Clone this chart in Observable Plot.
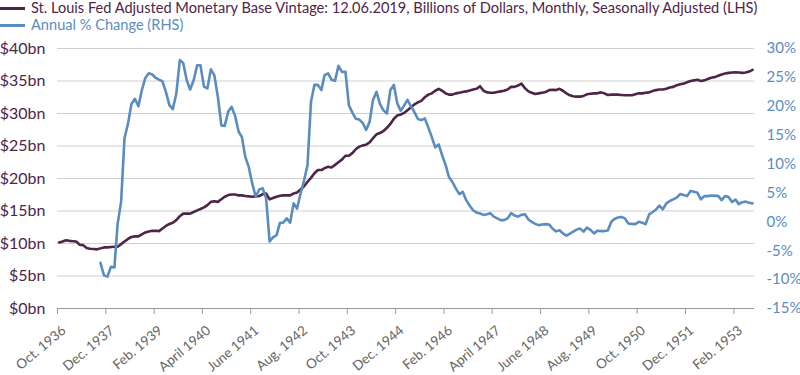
<!DOCTYPE html>
<html>
<head>
<meta charset="utf-8">
<script src="https://cdn.jsdelivr.net/npm/d3@7"></script>
<script src="https://cdn.jsdelivr.net/npm/@observablehq/plot@0.6"></script>
<style>
  html, body { margin: 0; padding: 0; background: #fff; }
  body { width: 800px; height: 375px; overflow: hidden; font-family: Lato, "Open Sans", sans-serif; }
  #legend { position: relative; height: 34px; }
  .item { position: absolute; left: 0; display: flex; align-items: center; font-size: 14.6px; line-height: 16px; white-space: nowrap; }
  .sw { width: 25px; height: 3px; margin-right: 6px; }
  #chart svg { display: block; }
</style>
</head>
<body>
<div id="legend"></div>
<div id="chart"></div>
<script>
// ---- Data ----
const startYear = 1936, startMonth = 9; // October 1936 (0-based month)
const seriesNames = [
  "St. Louis Fed Adjusted Monetary Base Vintage: 12.06.2019, Billions of Dollars, Monthly, Seasonally Adjusted (LHS)",
  "Annual % Change (RHS)"
];
// Monetary base, $bn, monthly from Oct 1936
const baseValues = [
  10.15, 10.3, 10.5, 10.4, 10.35, 10.3, 9.8, 9.75, 9.3, 9.2, 9.15, 9.1,
  9.25, 9.4, 9.4, 9.45, 9.5, 9.5, 9.9, 10.3, 10.7, 11.0, 11.1, 11.1,
  11.4, 11.7, 11.85, 11.95, 11.95, 11.9, 12.3, 12.7, 13.0, 13.2, 13.6, 14.2,
  14.6, 14.6, 14.6, 14.85, 15.1, 15.3, 15.55, 15.9, 16.4, 16.5, 16.4, 16.8,
  17.2, 17.45, 17.55, 17.55, 17.4, 17.4, 17.3, 17.25, 17.2, 17.25, 17.3, 17.6,
  17.7, 16.8, 17.0, 17.2, 17.35, 17.4, 17.4, 17.4, 17.7, 17.85, 18.3, 18.8,
  19.5, 20.1, 20.8, 21.3, 21.3, 21.6, 21.8, 21.7, 22.1, 22.5, 22.9, 23.5,
  23.5, 23.9, 24.5, 24.9, 25.1, 25.2, 25.55, 26.2, 26.8, 27.0, 27.3, 27.8,
  28.4, 29.2, 29.7, 29.85, 30.1, 30.5, 30.95, 31.4, 31.7, 31.95, 32.5, 32.9,
  33.1, 33.5, 33.8, 33.5, 33.1, 32.9, 32.9, 33.1, 33.2, 33.3, 33.4, 33.55,
  33.7, 33.8, 34.2, 33.5, 33.25, 33.2, 33.2, 33.3, 33.4, 33.5, 33.7, 34.1,
  34.1, 34.3, 34.6, 33.9, 33.4, 33.2, 33.0, 33.1, 33.2, 33.3, 33.6, 33.65,
  33.6, 33.8, 33.5, 33.1, 32.8, 32.65, 32.6, 32.6, 32.7, 32.95, 33.05, 33.1,
  33.1, 33.25, 33.1, 32.85, 32.9, 32.9, 32.9, 32.85, 32.8, 32.8, 32.8, 32.95,
  33.1, 33.1, 33.2, 33.25, 33.45, 33.6, 33.7, 33.7, 33.8, 34.0, 34.1, 34.35,
  34.5, 34.6, 34.8, 35.0, 35.1, 35.2, 35.0, 35.1, 35.3, 35.5, 35.6, 35.8,
  36.0, 36.15, 36.25, 36.3, 36.35, 36.3, 36.25, 36.3, 36.45, 36.7
];
// Annual % change, monthly from Oct 1937 (12 months after start)
const changeOffset = 12;
const changeValues = [
  -7.1, -9.26, -9.49, -7.8, -7.9, -0.4, 3.45, 14.5, 17.0, 20.4, 21.3, 20.0,
  22.8, 24.9, 25.7, 25.5, 24.9, 24.6, 24.3, 22.5, 20.2, 19.5, 22.2, 28.0,
  27.5, 24.5, 22.9, 24.5, 27.1, 27.1, 23.4, 23.1, 26.4, 25.4, 21.7, 16.7,
  16.6, 19.1, 19.9, 18.3, 15.6, 14.7, 11.2, 9.5, 6.6, 4.35, 5.6, 5.8,
  4.1, -3.4, -2.7, -2.3, -0.15, -0.15, 0.6, -0.15, 3.2, 2.3, 4.9, 7.2,
  9.75, 20.8, 23.7, 23.7, 22.8, 25.4, 25.7, 24.6, 24.4, 27.0, 25.95, 25.95,
  20.2, 18.9, 17.85, 17.7, 17.1, 15.9, 17.3, 21.1, 22.5, 20.4, 19.3, 18.75,
  22.8, 23.7, 20.5, 19.2, 20.2, 21.1, 20.0, 19.0, 17.8, 17.6, 17.9, 16.3,
  14.7, 12.9, 13.4, 11.5, 9.8, 7.8, 6.9, 5.8, 4.8, 5.2, 3.75, 2.8,
  2.0, 1.6, 1.45, 1.2, 1.3, 1.5, 0.9, 0.6, 0.3, 0.3, 0.6, 1.5,
  1.1, 0.9, 1.2, 1.3, 0.4, 0.0, -0.35, -0.57, -0.45, -0.4, -0.45, -1.2,
  -1.65, -1.45, -2.0, -2.4, -2.05, -1.7, -1.35, -1.15, -1.7, -1.0, -1.4, -2.0,
  -1.55, -1.6, -1.6, -1.5, 0.0, 0.5, 0.75, 0.85, 0.6, -0.3, -0.35, -0.4,
  0.0, -0.15, -0.4, 1.3, 1.7, 2.1, 2.8, 2.15, 3.2, 3.6, 3.9, 4.2,
  4.8, 4.65, 4.45, 5.35, 5.2, 5.05, 3.9, 4.45, 4.45, 4.55, 4.5, 4.5,
  3.75, 4.45, 4.3, 3.45, 3.85, 3.05, 3.4, 3.5, 3.3, 3.2
];
// Axis ticks
const xTickLabels = ["Oct. 1936","Dec. 1937","Feb. 1939","April 1940","June 1941","Aug. 1942","Oct. 1943",
  "Dec. 1944","Feb. 1946","April 1947","June 1948","Aug. 1949","Oct. 1950","Dec. 1951","Feb. 1953"];
const xTickStepMonths = 14;
const leftTicks = [0, 5, 10, 15, 20, 25, 30, 35, 40];
const rightTicks = [-15, -10, -5, 0, 5, 10, 15, 20, 25, 30];

// ---- Styling ----
const purple = "#4e2549";
const blue = "#5b8cc0";
const leftDomain = [0, 40];
const rightDomain = [-15, 30];

// map right-axis value onto the left scale
const toLeft = v => leftDomain[0] + (v - rightDomain[0]) * (leftDomain[1] - leftDomain[0]) / (rightDomain[1] - rightDomain[0]);
const fromLeft = y => rightDomain[0] + (y - leftDomain[0]) * (rightDomain[1] - rightDomain[0]) / (leftDomain[1] - leftDomain[0]);

const monthDate = (k, day = 15) => new Date(Date.UTC(startYear, startMonth + k, day));
const base = baseValues.map((v, k) => ({date: monthDate(k), value: v}));
const change = changeValues.map((v, i) => ({date: monthDate(i + changeOffset), value: toLeft(v)}));
const xTicks = xTickLabels.map((_, i) => ({date: monthDate(i * xTickStepMonths, 1), label: xTickLabels[i]}));

// Legend
const legend = document.getElementById("legend");
[[seriesNames[0], purple, 0], [seriesNames[1], blue, 17]].forEach(([name, color, top]) => {
  const it = document.createElement("div");
  it.className = "item";
  it.style.top = top + "px";
  it.style.color = color;
  const sw = document.createElement("span");
  sw.className = "sw";
  sw.style.background = color;
  const tx = document.createElement("span");
  tx.textContent = name;
  it.append(sw, tx);
  legend.append(it);
});

const chart = Plot.plot({
  width: 800,
  height: 341,
  marginLeft: 57,
  marginRight: 46,
  marginTop: 14,
  marginBottom: 67,
  style: {fontFamily: "Lato, 'Open Sans', sans-serif", background: "#fff"},
  x: {type: "utc", domain: [monthDate(0, 1), monthDate(202, 1)]},
  y: {domain: leftDomain},
  marks: [
    Plot.gridY(leftTicks.filter(d => d > 0), {stroke: "#cfcfcf", strokeOpacity: 1, strokeWidth: 1}),
    Plot.axisY(leftTicks, {anchor: "left", tickSize: 0, tickPadding: 12, fontSize: 16, color: purple,
      tickFormat: d => `$${d}bn`, label: null}),
    Plot.axisY(rightTicks.map(toLeft), {anchor: "right", tickSize: 0, tickPadding: 12, fontSize: 15, color: blue,
      tickFormat: d => `${Math.round(fromLeft(d))}%`, label: null}),
    Plot.ruleY([0], {stroke: "#9a9a9a", strokeWidth: 1}),
    Plot.axisX(xTicks.map(t => t.date), {anchor: "bottom", tickSize: 6, color: "#9a9a9a",
      tickFormat: () => "", label: null}),
    Plot.text(xTicks, {x: "date", text: "label", frameAnchor: "bottom", rotate: -40,
      textAnchor: "end", lineAnchor: "top", dx: 3, dy: 16, fontSize: 13.5, fill: "#666"}),
    Plot.lineY(base, {x: "date", y: "value", stroke: purple, strokeWidth: 2.6}),
    Plot.lineY(change, {x: "date", y: "value", stroke: blue, strokeWidth: 2.6})
  ]
});
document.getElementById("chart").append(chart);
</script>
</body>
</html>
